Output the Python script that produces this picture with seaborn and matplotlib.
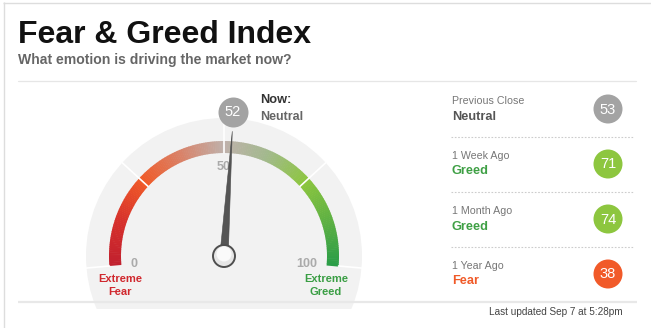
import numpy as np
import matplotlib
matplotlib.use("Agg")
import matplotlib.pyplot as plt
import seaborn as sns
import pandas as pd
from matplotlib.patches import Wedge, Circle, Polygon, Rectangle
from matplotlib.colors import LinearSegmentedColormap

# ---------------- data ----------------
title = "Fear & Greed Index"
subtitle = "What emotion is driving the market now?"
now_value = 52
now_rating = "Neutral"
history_labels = ["Previous Close", "1 Week Ago", "1 Month Ago", "1 Year Ago"]
history_values = [53, 71, 74, 38]
history_ratings = ["Neutral", "Greed", "Greed", "Fear"]
gauge_tick_values = [0, 50, 100]
gauge_tick_labels = ["0", "50", "100"]
zone_edges = [0, 25, 50, 75, 100]
updated_text = "Last updated Sep 7 at 5:28pm"

# ---------------- style ----------------
rating_circle = {"Neutral": "#a3a3a3", "Greed": "#8dc63f", "Fear": "#f15a29",
                 "Extreme Fear": "#c8202f", "Extreme Greed": "#2e9e47"}
rating_text = {"Neutral": "#555555", "Greed": "#3fa045", "Fear": "#f05a28"}

sns.set_theme(style="white")
plt.rcParams['font.family'] = ['Liberation Sans', 'DejaVu Sans']

W, H = 651, 328
fig = plt.figure(figsize=(W / 100, H / 100), dpi=100)
ax = fig.add_axes([0, 0, 1, 1])
ax.set_xlim(0, W)
ax.set_ylim(H, 0)
ax.axis('off')

CX, CY = 224, 256
R_BG = 138
R_OUT, R_IN = 115, 103


def scr_angle(v):
    return 185 - 1.9 * v  # screen degrees


def pt(v, r):
    a = np.deg2rad(scr_angle(v))
    return CX + r * np.cos(a), CY - r * np.sin(a)


# frame lines
ax.plot([3.5, 3.5], [2, H], color="#dddddd", lw=1.0, solid_capstyle='butt')
ax.plot([3, W], [2.5, 2.5], color="#dddddd", lw=1.0, solid_capstyle='butt')

# title
ax.text(18, 43, title, fontsize=23, fontweight='bold', color='#111111', va='baseline', ha='left')
ax.text(18, 64, subtitle, fontsize=10.1, fontweight='bold', color='#666666', va='baseline', ha='left')
ax.plot([18, 636], [81, 81], color="#e6e6e6", lw=0.9)

# gauge background
bg = Circle((CX, CY), R_BG, fc="#f2f2f2", ec='none', zorder=1)
ax.add_patch(bg)
clip = Rectangle((0, 0), W, 309, transform=ax.transData)
bg.set_clip_path(clip)

# gradient arc
cmap = LinearSegmentedColormap.from_list("fg", [
    (0.0, '#c1202e'), (0.12, '#d6302c'), (0.25, '#f05a28'), (0.38, '#d9836a'),
    (0.5, '#bfb1ab'), (0.62, '#a3b98e'), (0.75, '#8dc63f'), (0.88, '#5db043'),
    (1.0, '#2a9d47')])
steps = np.linspace(0, 100, 201)
for v1, v2 in zip(steps[:-1], steps[1:]):
    c = cmap((v1 + v2) / 200)
    ax.add_patch(Wedge((CX, CY), R_OUT, -scr_angle(v1), -scr_angle(v2) + 0.3,
                       width=R_OUT - R_IN, fc=c, ec='none', zorder=2))

# white separator lines
for v in zone_edges:
    r0 = R_OUT if v in (0, 100) else R_IN
    x0, y0 = pt(v, r0)
    x1, y1 = pt(v, R_BG + 1)
    ax.plot([x0, x1], [y0, y1], color='white', lw=1.2, zorder=3)

# tick labels
for v, lab in zip(gauge_tick_values, gauge_tick_labels):
    if v == 0:
        x, y = pt(v, 94); ha = 'left'
    elif v == 100:
        x, y = pt(v, 94); ha = 'right'
    else:
        x, y = pt(v, 89); ha = 'center'
    ax.text(x, y, lab, fontsize=9, fontweight='bold', color='#aaaaaa', ha=ha, va='center', zorder=3)

ax.text(120, 282, "Extreme", fontsize=8, fontweight='bold', color='#d0282e', ha='center', va='baseline')
ax.text(120, 295, "Fear", fontsize=8, fontweight='bold', color='#d0282e', ha='center', va='baseline')
ax.text(326, 282, "Extreme", fontsize=8, fontweight='bold', color='#3a9e44', ha='center', va='baseline')
ax.text(326, 295, "Greed", fontsize=8, fontweight='bold', color='#3a9e44', ha='center', va='baseline')

# needle
a = np.deg2rad(scr_angle(now_value))
d = np.array([np.cos(a), -np.sin(a)])
p = np.array([-d[1], d[0]])
c0 = np.array([CX, CY])
tip = c0 + d * 125
b1 = c0 + p * 4.2
b2 = c0 - p * 4.2
ax.add_patch(Polygon([b1, tip, b2], closed=True, fc='#555555', ec='#4a4a4a', lw=0.4, zorder=5))
ax.add_patch(Circle((CX, CY), 11, fc='#e6e6e6', ec='#4f4f4f', lw=1.4, zorder=6))
ax.add_patch(Circle((CX, CY - 2), 7.5, fc='#fafafa', ec='none', zorder=6))

# now bubble
now_df = pd.DataFrame({"x": [233], "y": [112], "rating": [now_rating]})
sns.scatterplot(data=now_df, x="x", y="y", hue="rating", palette=rating_circle,
                s=(30 * 0.72) ** 2, linewidth=0, legend=False, ax=ax, zorder=7)
ax.text(233, 112.5, str(now_value), fontsize=10.5, color='white', ha='center', va='center', zorder=8)
ax.text(260, 103, "Now:", fontsize=9.2, fontweight='bold', color='#333333', ha='left', va='baseline')
ax.text(260, 120, now_rating, fontsize=9, fontweight='bold', color='#666666', ha='left', va='baseline')

# history panel
ys = [109 + 55 * i for i in range(len(history_values))]
hist_df = pd.DataFrame({"x": [608] * len(history_values), "y": ys, "rating": history_ratings})
sns.scatterplot(data=hist_df, x="x", y="y", hue="rating", palette=rating_circle,
                s=(29 * 0.72) ** 2, linewidth=0, legend=False, ax=ax, zorder=4)
for i, (lab, val, rat) in enumerate(zip(history_labels, history_values, history_ratings)):
    y = ys[i]
    ax.text(452, y - 5, lab, fontsize=7.7, color='#777777', ha='left', va='baseline')
    ax.text(452, y + 10.5, rat, fontsize=9.2, fontweight='bold', color=rating_text[rat], ha='left', va='baseline')
    ax.text(608, y + 0.5, str(val), fontsize=10.5, color='white', ha='center', va='center', zorder=5)
    if i < len(history_values) - 1:
        ax.plot([451, 633], [y + 28, y + 28], color='#cccccc', lw=0.8, ls=(0, (1.5, 1.5)))

ax.plot([18, 637], [302, 302], color='#e8e8e8', lw=1.6, solid_capstyle='butt', zorder=9)
ax.text(623, 315, updated_text, fontsize=7.2, color='#444444', ha='right', va='baseline')

ax.set_xlim(0, W)
ax.set_ylim(H, 0)
ax.set_xlabel("")
ax.set_ylabel("")
fig.savefig("out.png", dpi=100)
